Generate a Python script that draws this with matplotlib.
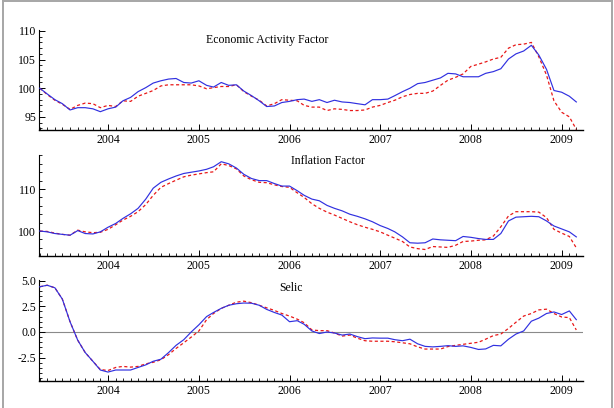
import matplotlib
matplotlib.use("Agg")
import matplotlib.pyplot as plt
import matplotlib.dates as mdates
import matplotlib.ticker as mticker
from matplotlib.lines import Line2D
import pandas as pd

plt.rcParams["font.family"] = ["Liberation Serif", "DejaVu Serif"]

# monthly observations, Apr 2003 .. Mar 2009
months = pd.date_range("2003-04-01", periods=72, freq="MS")

activity_actual = [
    100.0, 99.0, 98.0, 97.3, 96.2, 96.6, 96.6, 96.4, 95.9, 96.4, 96.7, 97.8,
    98.4, 99.4, 100.1, 100.9, 101.3, 101.6, 101.7, 101.0, 100.9, 101.3, 100.5, 100.2,
    101.0, 100.5, 100.6, 99.5, 98.7, 97.8, 96.8, 96.9, 97.5, 97.7, 98.0, 98.1,
    97.7, 98.0, 97.5, 97.9, 97.6, 97.5, 97.3, 97.1, 98.0, 98.0, 98.1, 98.7,
    99.4, 100.0, 100.8, 101.0, 101.4, 101.8, 102.6, 102.5, 102.0, 102.0, 102.0, 102.6,
    102.9, 103.4, 105.1, 106.0, 106.5, 107.5, 105.8, 103.3, 99.6, 99.3, 98.6, 97.6,
]
activity_fitted = [
    100.0, 98.9, 97.9, 97.2, 96.3, 97.0, 97.4, 97.3, 96.6, 97.0, 96.8, 97.8,
    97.7, 98.6, 99.1, 99.6, 100.4, 100.6, 100.6, 100.6, 100.6, 100.4, 99.9, 100.1,
    100.3, 100.3, 100.6, 99.4, 98.6, 97.9, 96.9, 97.3, 98.0, 97.9, 97.8, 97.0,
    96.7, 96.7, 96.1, 96.4, 96.3, 96.1, 96.1, 96.2, 96.7, 97.0, 97.5, 97.9,
    98.5, 98.9, 99.1, 99.1, 99.5, 100.5, 101.4, 101.9, 102.5, 103.8, 104.2, 104.6,
    105.1, 105.4, 107.0, 107.6, 107.7, 108.0, 105.5, 102.3, 97.8, 95.8, 95.0, 92.8,
]

inflation_actual = [
    100.0, 99.8, 99.4, 99.2, 99.0, 100.1, 99.4, 99.3, 99.8, 100.9, 101.8, 103.0,
    104.1, 105.4, 107.6, 110.2, 111.6, 112.4, 113.1, 113.7, 114.0, 114.3, 114.7, 115.3,
    116.5, 116.0, 115.0, 113.5, 112.5, 112.0, 112.0, 111.3, 110.7, 110.7, 109.6, 108.5,
    107.6, 107.2, 106.1, 105.4, 104.8, 104.0, 103.5, 102.9, 102.2, 101.3, 100.6, 99.8,
    98.6, 97.2, 97.1, 97.2, 98.1, 97.9, 97.8, 97.7, 98.7, 98.5, 98.2, 98.0,
    98.0, 99.4, 102.4, 103.3, 103.4, 103.5, 103.4, 102.4, 101.2, 100.5, 99.8, 98.6,
]
inflation_fitted = [
    100.0, 99.9, 99.5, 99.2, 99.0, 100.2, 99.8, 99.6, 99.7, 100.4, 101.5, 102.6,
    103.5, 104.6, 106.3, 108.5, 110.4, 111.3, 112.1, 112.9, 113.3, 113.6, 113.9, 114.1,
    116.0, 115.6, 114.8, 113.1, 112.2, 111.6, 111.5, 111.0, 110.6, 110.4, 109.1, 108.0,
    106.5, 105.4, 104.5, 103.8, 103.0, 102.2, 101.5, 100.9, 100.4, 99.8, 99.0, 98.3,
    97.5, 96.2, 95.8, 95.6, 96.3, 96.2, 96.1, 96.6, 97.5, 97.6, 97.8, 97.9,
    98.8, 101.0, 103.6, 104.6, 104.6, 104.6, 104.5, 103.2, 100.4, 99.5, 98.7, 96.0,
]

selic_actual = [
    4.4, 4.55, 4.3, 3.2, 1.0, -0.8, -2.0, -2.85, -3.7, -3.9, -3.7, -3.7,
    -3.7, -3.45, -3.2, -2.85, -2.65, -2.0, -1.3, -0.75, 0.0, 0.7, 1.5, 1.9,
    2.3, 2.6, 2.75, 2.82, 2.8, 2.6, 2.2, 1.9, 1.65, 1.0, 1.1, 0.75,
    0.1, -0.15, 0.0, -0.1, -0.3, -0.2, -0.45, -0.65, -0.58, -0.6, -0.6, -0.75,
    -0.85, -0.7, -1.15, -1.4, -1.45, -1.4, -1.33, -1.4, -1.35, -1.5, -1.7, -1.65,
    -1.3, -1.35, -0.7, -0.2, 0.1, 1.05, 1.35, 1.8, 1.95, 1.7, 2.05, 1.2,
]
selic_fitted = [
    4.4, 4.55, 4.3, 3.2, 1.0, -0.8, -2.0, -2.85, -3.65, -3.75, -3.45, -3.35,
    -3.42, -3.35, -3.1, -2.95, -2.7, -2.2, -1.6, -1.05, -0.5, 0.1, 1.2, 1.8,
    2.3, 2.6, 2.9, 3.0, 2.85, 2.6, 2.35, 2.1, 1.8, 1.55, 1.25, 0.9,
    0.2, 0.13, 0.13, -0.1, -0.4, -0.3, -0.6, -0.85, -0.9, -0.9, -0.9, -0.95,
    -1.05, -1.15, -1.45, -1.66, -1.66, -1.66, -1.42, -1.3, -1.2, -1.1, -1.0, -0.7,
    -0.35, -0.2, 0.35, 0.95, 1.55, 1.8, 2.15, 2.22, 1.8, 1.46, 1.4, 0.2,
]

titles = ["Economic Activity Factor", "Inflation Factor", "Selic"]
title_pos = [(267, 40), (328, 161), (291, 288)]
y_limits = [(92.7, 110.17), (94.05, 118.1), (-4.77, 5.06)]
y_major = [[95, 100, 105, 110], [100, 110], [-2.5, 0.0, 2.5, 5.0]]
y_minor_step = [1, 2, 0.5]
y_fmt = ["{:.0f}", "{:.0f}", "{:.1f}"]

W, H = 614, 408
fig = plt.figure(figsize=(W / 100, H / 100), dpi=100)
fig.patch.set_facecolor("white")

# axes boxes in pixels: left, right, x-axis row, top row
boxes = [(39, 583, 130, 30), (39, 583, 256, 155), (39, 583, 381, 280)]
series = [(activity_actual, activity_fitted),
          (inflation_actual, inflation_fitted),
          (selic_actual, selic_fitted)]

x_lo = pd.Timestamp("2003-03-29")
x_hi = pd.Timestamp("2009-03-28")

for k, (l, r, b, t) in enumerate(boxes):
    ax = fig.add_axes([l / W, (H - b) / H, (r - l) / W, (b - t) / H])
    actual, fitted = series[k]
    if k == 2:
        ax.axhline(0, color="#8a8a8a", linewidth=0.8, zorder=1)
    ax.plot(months, fitted, color="#e81818", linewidth=0.9, linestyle=(0, (2.5, 2)), zorder=2)
    ax.plot(months, actual, color="#3030e0", linewidth=0.85, zorder=3)

    ax.set_xlim(x_lo, x_hi)
    ax.set_ylim(*y_limits[k])
    ax.xaxis.set_major_locator(mdates.YearLocator())
    ax.xaxis.set_major_formatter(mdates.DateFormatter("%Y"))
    ax.xaxis.set_minor_locator(mdates.MonthLocator())
    ax.yaxis.set_major_locator(mticker.FixedLocator(y_major[k]))
    ax.yaxis.set_minor_locator(mticker.MultipleLocator(y_minor_step[k]))
    fmt = y_fmt[k]
    ax.yaxis.set_major_formatter(mticker.FuncFormatter(lambda v, _, f=fmt: f.format(v)))

    ax.tick_params(axis="both", which="major", direction="in", length=4, width=0.7,
                   labelsize=8.5, pad=2, color="black")
    ax.tick_params(axis="both", which="minor", direction="in", length=2, width=0.6,
                   color="black")
    ax.tick_params(axis="x", which="major", pad=3)

    ax.spines["top"].set_visible(False)
    ax.spines["right"].set_visible(False)
    ax.spines["left"].set_linewidth(0.8)
    ax.spines["bottom"].set_linewidth(1.0)
    ax.patch.set_alpha(0)

    tx, ty = title_pos[k]
    fig.text(tx / W, 1 - ty / H, titles[k], ha="center", va="center", fontsize=8.5)

# gray picture frame (left, top, right)
frame_color = "#a6a6a6"
fig.add_artist(Line2D([2.5 / W, 2.5 / W], [0, 1 - 1 / H], transform=fig.transFigure,
                      color=frame_color, linewidth=1.4))
fig.add_artist(Line2D([2.5 / W, 611.5 / W], [1 - 1 / H, 1 - 1 / H], transform=fig.transFigure,
                      color=frame_color, linewidth=1.4))
fig.add_artist(Line2D([611.5 / W, 611.5 / W], [0, 1 - 1 / H], transform=fig.transFigure,
                      color=frame_color, linewidth=1.4))

fig.savefig("out.png", dpi=100)
plt.close(fig)
